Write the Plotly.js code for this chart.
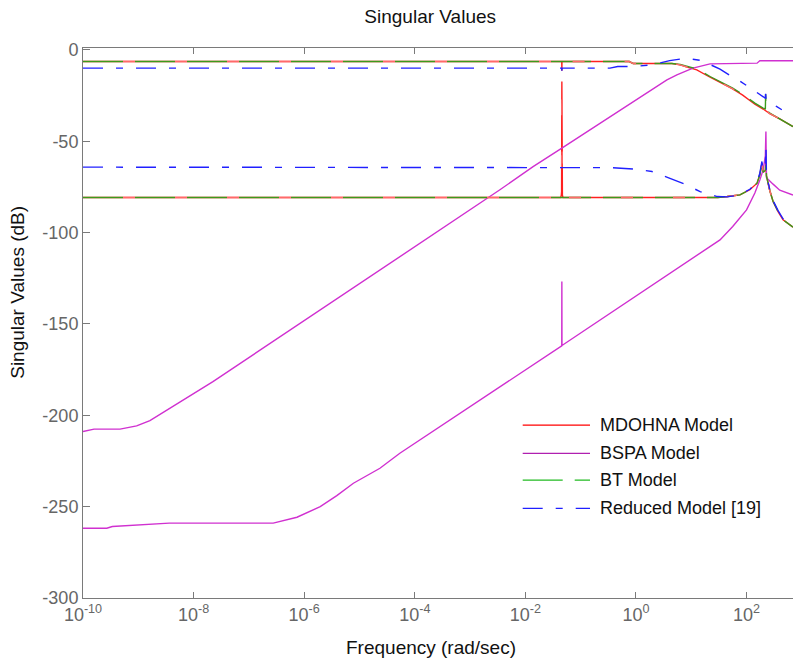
<!DOCTYPE html>
<html>
<head>
<meta charset="utf-8">
<script src="https://cdn.plot.ly/plotly-3.0.1.min.js"></script>
<style>html,body{margin:0;padding:0;background:#fff;}#chart{width:793px;height:659px;}</style>
</head>
<body>
<div id="chart"></div>
<script>
// ---- data (frequency in rad/sec, singular values in dB) ----
var seriesNames = ['MDOHNA Model', 'BSPA Model', 'BT Model', 'Reduced Model [19]'];

var mdohnaUpperW = [1e-10, 0.04550, 0.04571, 0.04592, 0.7586, 0.8913, 4.467, 6.310, 8.710, 12.59, 21.88, 35.48, 56.23, 85.11, 141.3, 199.5, 229.1, 263.0, 398.1, 691.8];
var mdohnaUpperDb = [-6.4, -6.4, -11.5, -6.4, -6.4, -7.5, -7.5, -8.2, -9.6, -11.0, -15.0, -18.2, -21.4, -24.8, -29.8, -32.4, -33.8, -34.9, -37.8, -42.0];
var mdohnaLowerW = [1e-10, 0.04365, 0.04467, 0.04519, 0.04571, 0.04624, 0.04677, 0.04786, 30.20, 44.67, 75.86, 114.8, 154.9, 173.8, 190.5, 199.5, 218.8, 223.9, 229.1, 263.0, 302.0, 371.5, 457.1, 691.8];
var mdohnaLowerDb = [-80.8, -80.8, -79.5, -77.5, -17.3, -77.5, -79.5, -80.8, -80.8, -80.3, -79.4, -76.6, -73.0, -68.4, -62.0, -67.0, -66.0, -60.0, -69.0, -77.0, -83.0, -88.5, -93.0, -97.0];

var bspaUpperW = [1e-10, 1.585e-10, 4.677e-10, 9.333e-10, 1.622e-9, 3.236e-9, 5.623e-9, 1.148e-8, 2.239e-8, 3.467e-3, 1.380e-2, 0.04571, 0.2239, 0.8810, 3.631, 5.495, 10.72, 21.88, 154.9, 173.8, 691.8];
var bspaUpperDb = [-208.9, -207.6, -207.6, -205.8, -202.9, -197.4, -193.0, -187.0, -181.6, -76.6, -63.9, -53.8, -40.1, -28.3, -16.4, -13.7, -10.0, -7.7, -7.3, -6.0, -6.0];
var bspaLowerW = [1e-10, 2.692e-10, 3.388e-10, 1.047e-9, 3.631e-9, 2.754e-7, 7.413e-7, 1.950e-6, 3.890e-6, 7.762e-6, 2.344e-5, 5.370e-5, 0.04550, 0.04571, 0.04592, 33.11, 56.23, 100.0, 141.3, 173.8, 199.5, 213.8, 218.8, 223.9, 229.1, 302.0, 398.1, 691.8];
var bspaLowerDb = [-261.8, -261.8, -260.9, -260.0, -259.0, -259.0, -255.8, -250.0, -244.0, -237.2, -229.0, -220.8, -162.0, -126.8, -161.8, -104.0, -96.7, -87.6, -78.4, -71.2, -65.7, -60.0, -58.0, -44.7, -70.0, -73.5, -76.8, -79.5];

var btUpperW = [1e-10, 0.7586, 0.8913, 4.467, 6.310, 8.710, 12.59, 21.88, 35.48, 56.23, 85.11, 141.3, 199.5, 218.8, 221.3, 226.5, 263.0, 398.1, 691.8];
var btUpperDb = [-6.4, -6.4, -7.5, -7.5, -8.0, -9.1, -10.4, -14.6, -17.8, -21.0, -24.3, -29.2, -31.9, -32.3, -24.2, -32.8, -34.7, -37.8, -42.0];
var btLowerW = [1e-10, 30.20, 44.67, 75.86, 114.8, 154.9, 173.8, 190.5, 199.5, 218.8, 223.9, 229.1, 263.0, 302.0, 371.5, 457.1, 691.8];
var btLowerDb = [-80.8, -80.8, -80.3, -79.4, -76.6, -73.0, -68.4, -62.0, -67.0, -66.0, -62.0, -69.0, -77.0, -83.0, -88.5, -93.0, -97.0];

var red19UpperW = [1e-10, 0.04550, 0.04571, 0.04592, 0.3388, 0.4677, 0.9550, 1.950, 4.074, 7.943, 15.49, 33.11, 53.70, 66.07, 107.2, 199.5, 218.8, 221.3, 226.5, 346.7, 691.8];
var red19UpperDb = [-10.0, -10.0, -11.5, -10.0, -10.0, -9.1, -9.1, -8.2, -5.9, -4.6, -5.9, -10.6, -14.6, -16.0, -20.1, -25.5, -26.5, -24.0, -28.0, -31.0, -36.5];
var red19LowerW = [1e-10, 0.3388, 0.3802, 0.9550, 1.950, 3.802, 7.762, 14.45, 29.51, 44.67, 75.86, 114.8, 154.9, 173.8, 184.1, 189.7, 199.5, 218.8, 223.9, 229.1, 263.0, 302.0, 371.5, 457.1, 691.8];
var red19LowerDb = [-64.2, -64.2, -64.5, -65.3, -66.6, -69.9, -73.6, -77.6, -80.3, -80.5, -79.4, -76.3, -72.5, -67.5, -62.0, -61.1, -66.0, -65.0, -53.0, -68.5, -76.5, -82.5, -88.0, -92.5, -97.0];

var xTickVals = [1e-10, 1e-8, 1e-6, 1e-4, 1e-2, 1, 100];
var xTickText = ['10<sup>-10</sup>', '10<sup>-8</sup>', '10<sup>-6</sup>', '10<sup>-4</sup>', '10<sup>-2</sup>', '10<sup>0</sup>', '10<sup>2</sup>'];
var yTickVals = [-300, -250, -200, -150, -100, -50, 0];
var yTickText = ['-300', '-250', '-200', '-150', '-100', '-50', '0'];
var xTitle = 'Frequency (rad/sec)';
var yTitle = 'Singular Values (dB)';
var chartTitle = 'Singular Values';

// ---- styles ----
var FONT = 'Liberation Sans, Arial, Helvetica, sans-serif';
var cRed = '#ff2020', cMag = '#d030d0', cGreen = '#3c9a1c', cBlue = '#2020ff';
var dashBT = '40px,12px';
var dashBTgap = '0px,40px,12px,0px';   // red shows through the gaps of the BT dashes
var dashRed19 = '20px,13px,7px,13px';
var LW = 1.4;

function tr(x, y, color, dash, w) {
  return {x: x, y: y, type: 'scatter', mode: 'lines', showlegend: false, hoverinfo: 'skip',
          line: {color: color, width: w || LW, dash: dash || 'solid'}};
}

var data = [
  tr(mdohnaUpperW, mdohnaUpperDb, cRed),
  tr(mdohnaLowerW, mdohnaLowerDb, cRed),
  tr(bspaUpperW, bspaUpperDb, cMag),
  tr(bspaLowerW, bspaLowerDb, cMag),
  tr(btUpperW, btUpperDb, cGreen, dashBT),
  tr(btLowerW, btLowerDb, cGreen, dashBT),
  tr(mdohnaUpperW, mdohnaUpperDb, '#ff6a6a', dashBTgap),
  tr(mdohnaLowerW, mdohnaLowerDb, '#ff6a6a', dashBTgap),
  tr(red19UpperW, red19UpperDb, cBlue, dashRed19),
  tr(red19LowerW, red19LowerDb, cBlue, dashRed19)
];

// custom legend (long line samples like the original)
var legColors = ['#ff0000', '#b020b0', '#22bb22', '#2020ff'];
var legDashes = ['solid', 'solid', dashBT, dashRed19];
var legY = [0.3145, 0.2630, 0.2145, 0.1630];
var shapes = [], annotations = [];
for (var i = 0; i < seriesNames.length; i++) {
  shapes.push({type: 'line', xref: 'paper', yref: 'paper', x0: 0.6193, x1: 0.7141, y0: legY[i], y1: legY[i],
               line: {color: legColors[i], width: 1.2, dash: legDashes[i]}});
  annotations.push({xref: 'paper', yref: 'paper', x: 0.7254, y: legY[i], xanchor: 'left', yanchor: 'middle',
                    text: seriesNames[i], showarrow: false, font: {family: FONT, size: 18, color: '#111'}});
}
annotations.push({xref: 'paper', yref: 'paper', x: -0.0915, y: 0.555, xanchor: 'center', yanchor: 'middle',
                  textangle: -90, text: yTitle, showarrow: false,
                  font: {family: FONT, size: 19, color: '#111'}});
annotations.push({xref: 'paper', yref: 'paper', x: 0.490, y: -0.0909, xanchor: 'center', yanchor: 'middle',
                  text: xTitle, showarrow: false,
                  font: {family: FONT, size: 19, color: '#111'}});

var axisGrey = '#7a7a7a';
var layout = {
  width: 793, height: 659,
  margin: {l: 83, r: 0, t: 48, b: 61},
  paper_bgcolor: '#fff', plot_bgcolor: '#fff',
  font: {family: FONT, size: 18, color: '#666'},
  title: {text: chartTitle, font: {family: FONT, size: 19, color: '#111'},
          x: 0.489, xref: 'paper', xanchor: 'center', y: 0.975, yref: 'container', yanchor: 'middle'},
  xaxis: {type: 'log', range: [-10, 2.84], tickmode: 'array', tickvals: xTickVals, ticktext: xTickText,
          ticks: 'inside', ticklen: 6, tickcolor: axisGrey, showline: true, linecolor: axisGrey, linewidth: 1,
          mirror: 'ticks', showgrid: false, zeroline: false,
          tickfont: {family: FONT, size: 18, color: '#666'}},
  yaxis: {range: [-300, 1], tickmode: 'array', tickvals: yTickVals, ticktext: yTickText,
          ticks: 'inside', ticklen: 7, tickcolor: axisGrey, showline: true, linecolor: axisGrey, linewidth: 1,
          mirror: false, showgrid: false, zeroline: false,
          tickfont: {family: FONT, size: 18, color: '#666'}},
  shapes: shapes,
  annotations: annotations
};

Plotly.newPlot('chart', data, layout, {staticPlot: true, displayModeBar: false});
</script>
</body>
</html>
